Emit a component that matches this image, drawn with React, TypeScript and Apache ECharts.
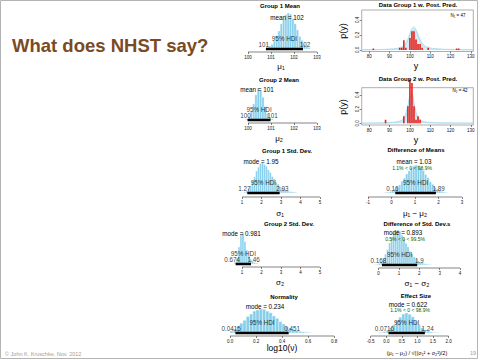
import React, { useEffect, useRef } from "react";
import * as echarts from "echarts";

const FONT = '"Liberation Sans", Arial, Helvetica, sans-serif';

// ---------- posterior histograms: bin centres and relative heights ----------
const mu1Bins = [100.85, 100.95, 101.05, 101.15, 101.25, 101.35, 101.45, 101.55, 101.65, 101.75, 101.85, 101.95, 102.05, 102.15, 102.25, 102.35, 102.45, 102.55, 102.65];
const mu1Heights = [0.04, 0.08, 0.13, 0.22, 0.37, 0.5, 0.7, 0.83, 0.95, 1.0, 0.97, 0.84, 0.7, 0.53, 0.35, 0.24, 0.12, 0.07, 0.04];
const mu2Bins = [99.95, 100.05, 100.15, 100.25, 100.35, 100.45, 100.55, 100.65, 100.75, 100.85, 100.95, 101.05];
const mu2Heights = [0.03, 0.1, 0.26, 0.5, 0.79, 1.0, 0.92, 0.71, 0.42, 0.2, 0.08, 0.03];
const sigma1Bins = [1.15, 1.25, 1.35, 1.45, 1.55, 1.65, 1.75, 1.85, 1.95, 2.05, 2.15, 2.25, 2.35, 2.45, 2.55, 2.65, 2.75, 2.85, 2.95, 3.05, 3.15, 3.25, 3.35, 3.45, 3.55, 3.65, 3.75];
const sigma1Heights = [0.03, 0.07, 0.15, 0.24, 0.4, 0.54, 0.73, 0.86, 0.98, 1.0, 0.95, 0.89, 0.77, 0.68, 0.55, 0.47, 0.36, 0.3, 0.22, 0.17, 0.13, 0.1, 0.07, 0.05, 0.04, 0.03, 0.02];
const sigma2Bins = [0.65, 0.75, 0.85, 0.95, 1.05, 1.15, 1.25, 1.35, 1.45, 1.55, 1.65, 1.75];
const sigma2Heights = [0.05, 0.2, 0.55, 0.95, 1.0, 0.72, 0.45, 0.26, 0.15, 0.08, 0.045, 0.025];
const nuBins = [0.0125, 0.0375, 0.0625, 0.0875, 0.1125, 0.1375, 0.1625, 0.1875, 0.2125, 0.2375, 0.2625, 0.2875, 0.3125, 0.3375, 0.3625, 0.3875, 0.4125, 0.4375, 0.4625, 0.4875, 0.5125, 0.5375, 0.5625, 0.5875, 0.6125];
const nuHeights = [0.08, 0.17, 0.26, 0.41, 0.53, 0.69, 0.79, 0.91, 0.96, 1.0, 0.99, 0.91, 0.84, 0.71, 0.61, 0.47, 0.38, 0.27, 0.21, 0.14, 0.1, 0.07, 0.05, 0.03, 0.02];
const diffMuBins = [-0.25, -0.15, -0.05, 0.05, 0.15, 0.25, 0.35, 0.45, 0.55, 0.65, 0.75, 0.85, 0.95, 1.05, 1.15, 1.25, 1.35, 1.45, 1.55, 1.65, 1.75, 1.85, 1.95, 2.05, 2.15, 2.25, 2.35];
const diffMuHeights = [0.015, 0.03, 0.05, 0.09, 0.13, 0.22, 0.29, 0.42, 0.53, 0.68, 0.79, 0.91, 0.97, 1.0, 0.98, 0.89, 0.81, 0.66, 0.55, 0.4, 0.31, 0.2, 0.14, 0.08, 0.05, 0.03, 0.015];
const diffSigmaBins = [-0.15, -0.05, 0.05, 0.15, 0.25, 0.35, 0.45, 0.55, 0.65, 0.75, 0.85, 0.95, 1.05, 1.15, 1.25, 1.35, 1.45, 1.55, 1.65, 1.75, 1.85, 1.95, 2.05, 2.15, 2.25, 2.35, 2.45, 2.55];
const diffSigmaHeights = [0.01, 0.02, 0.05, 0.1, 0.18, 0.31, 0.44, 0.63, 0.77, 0.92, 0.98, 1.0, 0.96, 0.85, 0.76, 0.62, 0.52, 0.39, 0.32, 0.23, 0.17, 0.12, 0.085, 0.06, 0.04, 0.028, 0.018, 0.012];
const effBins = [-0.25, -0.15, -0.05, 0.05, 0.15, 0.25, 0.35, 0.45, 0.55, 0.65, 0.75, 0.85, 0.95, 1.05, 1.15, 1.25, 1.35, 1.45, 1.55, 1.65, 1.75];
const effHeights = [0.012, 0.03, 0.065, 0.14, 0.25, 0.4, 0.62, 0.79, 0.95, 1.0, 0.94, 0.81, 0.6, 0.42, 0.25, 0.16, 0.09, 0.05, 0.028, 0.016, 0.01];

// ---------- summary values ----------
const mu1Hdi = [100.78, 102.39];
const mu2Hdi = [99.98, 100.98];
const sigma1Hdi = [1.27, 2.93];
const sigma2Hdi = [0.674, 1.46];
const nuHdi = [0.0415, 0.451];
const diffMuHdi = [0.16, 1.89];
const diffSigmaHdi = [0.168, 1.9];
const effHdi = [0.0716, 1.24];
const mu1Mean = 101.7;
const mu2Mean = 100.52;
const sigma1Mode = 1.95;
const sigma2Mode = 0.981;
const nuMode = 0.234;
const diffMuMean = 1.03;
const diffSigmaMode = 0.893;
const effMode = 0.622;
const diffMuPct = [1.1, 98.9];
const diffSigmaPct = [0.5, 99.5];
const effPct = [1.1, 98.9];

// ---------- tick labels ----------
const muTicks = [100, 101, 102, 103];
const sigmaTicks = [1, 2, 3, 4, 5];
const nuTicks = [0, 0.2, 0.4, 0.6, 0.8];
const diffMuTicks = [-1, 0, 1, 2, 3];
const diffSigmaTicks = [0, 1, 2, 3, 4];
const effTicks = [-0.5, 0, 0.5, 1, 1.5, 2];
const yTicks = [80, 90, 100, 110, 120, 130];
const pTicks = [0, 0.2, 0.4];

// ---------- data with posterior predictive ----------
const n1 = 47;
const n2 = 42;
const data1X = [82, 95, 96, 97, 98, 100, 101, 102, 103, 104, 105, 106, 109, 123, 124];
const data1Y = [0.02, 0.03, 0.03, 0.13, 0.03, 0.16, 0.25, 0.25, 0.14, 0.08, 0.08, 0.03, 0.03, 0.02, 0.02];
const data2X = [88, 97, 99, 100, 101, 102, 103, 104, 105];
const data2Y = [0.05, 0.1, 0.24, 0.62, 0.57, 0.24, 0.05, 0.1, 0.05];
const ppc1X = [76, 80, 84, 88, 92, 94, 96, 97, 98, 99, 100, 101, 102, 103, 104, 105, 106, 107, 108, 110, 112, 116, 120, 126, 131];
const ppc1Y = [0.003, 0.004, 0.006, 0.009, 0.016, 0.024, 0.04, 0.058, 0.09, 0.14, 0.2, 0.255, 0.28, 0.255, 0.2, 0.14, 0.095, 0.063, 0.045, 0.028, 0.019, 0.011, 0.008, 0.005, 0.004];
const ppc1bY = [0.002, 0.003, 0.004, 0.006, 0.01, 0.015, 0.028, 0.045, 0.08, 0.14, 0.22, 0.29, 0.31, 0.27, 0.19, 0.12, 0.07, 0.042, 0.028, 0.016, 0.011, 0.007, 0.005, 0.003, 0.002];
const ppc2X = [76, 80, 84, 88, 92, 94, 96, 97, 98, 99, 100, 101, 102, 103, 104, 105, 106, 108, 110, 114, 120, 126, 131];
const ppc2Y = [0.002, 0.003, 0.005, 0.008, 0.015, 0.024, 0.045, 0.075, 0.14, 0.26, 0.37, 0.39, 0.29, 0.16, 0.085, 0.05, 0.033, 0.018, 0.012, 0.007, 0.004, 0.003, 0.002];
const ppc2bY = [0.001, 0.002, 0.003, 0.005, 0.01, 0.016, 0.03, 0.05, 0.1, 0.22, 0.4, 0.43, 0.26, 0.12, 0.055, 0.03, 0.02, 0.011, 0.007, 0.004, 0.003, 0.002, 0.001];

const sig3 = (v: number) => String(Number(v.toPrecision(3)));

type Hist = {
  title: string; tx: number; ty: number;
  bins: number[]; heights: number[]; bw: number; hdi: number[];
  ticks: number[]; dec: number; tickPx: [number, number]; xmin: number; xmax: number;
  peakY: number; baseY: number; axisY: number;
  center: string; cx: number; cy: number;
  comp?: string; gx?: number; gy?: number;
  xlabel: string; lx: number; ly: number; lsize: number;
};

const hists: Hist[] = [
  { title: "Group 1 Mean", tx: 280, ty: 6, bins: mu1Bins, heights: mu1Heights, bw: 0.1, hdi: mu1Hdi,
    ticks: muTicks, dec: 0, tickPx: [248, 317], xmin: 99.8, xmax: 103.2, peakY: 13, baseY: 49, axisY: 52,
    center: "mean = " + sig3(mu1Mean), cx: 287, cy: 17, xlabel: "μ₁", lx: 281, ly: 66, lsize: 8 },
  { title: "Group 2 Mean", tx: 279, ty: 80, bins: mu2Bins, heights: mu2Heights, bw: 0.1, hdi: mu2Hdi,
    ticks: muTicks, dec: 0, tickPx: [248, 317], xmin: 99.8, xmax: 103.2, peakY: 88, baseY: 120, axisY: 123,
    center: "mean = " + sig3(mu2Mean), cx: 257, cy: 89, xlabel: "μ₂", lx: 279, ly: 138, lsize: 8 },
  { title: "Group 1 Std. Dev.", tx: 287, ty: 151, bins: sigma1Bins, heights: sigma1Heights, bw: 0.1, hdi: sigma1Hdi,
    ticks: sigmaTicks, dec: 0, tickPx: [242, 320], xmin: 0.9, xmax: 5.2, peakY: 163, baseY: 193, axisY: 197,
    center: "mode = " + sig3(sigma1Mode), cx: 261, cy: 161, xlabel: "σ₁", lx: 280, ly: 213, lsize: 8 },
  { title: "Group 2 Std. Dev.", tx: 289, ty: 224, bins: sigma2Bins, heights: sigma2Heights, bw: 0.1, hdi: sigma2Hdi,
    ticks: sigmaTicks, dec: 0, tickPx: [242, 320], xmin: 0.5, xmax: 5.2, peakY: 233, baseY: 264, axisY: 267,
    center: "mode = " + sig3(sigma2Mode), cx: 241.5, cy: 233, xlabel: "σ₂", lx: 280, ly: 282, lsize: 8 },
  { title: "Normality", tx: 284, ty: 297, bins: nuBins, heights: nuHeights, bw: 0.025, hdi: nuHdi,
    ticks: nuTicks, dec: 1, tickPx: [230, 334], xmin: -0.05, xmax: 0.85, peakY: 309, baseY: 333, axisY: 336,
    center: "mode = " + sig3(nuMode), cx: 265, cy: 306, xlabel: "log10(ν)", lx: 282, ly: 348, lsize: 8.5 },
  { title: "Difference of Means", tx: 416, ty: 150, bins: diffMuBins, heights: diffMuHeights, bw: 0.1, hdi: diffMuHdi,
    ticks: diffMuTicks, dec: 0, tickPx: [368, 462], xmin: -1.2, xmax: 3.2, peakY: 165, baseY: 193, axisY: 197,
    center: "mean = " + sig3(diffMuMean), cx: 414, cy: 161,
    comp: `${diffMuPct[0]}% < 0 < ${diffMuPct[1]}%`, gx: 412, gy: 168, xlabel: "μ₁ − μ₂", lx: 415, ly: 213, lsize: 8 },
  { title: "Difference of Std. Dev.s", tx: 417, ty: 224, bins: diffSigmaBins, heights: diffSigmaHeights, bw: 0.1, hdi: diffSigmaHdi,
    ticks: diffSigmaTicks, dec: 0, tickPx: [378.5, 460], xmin: -0.3, xmax: 4.2, peakY: 230, baseY: 265, axisY: 268,
    center: "mode = " + sig3(diffSigmaMode), cx: 403, cy: 232,
    comp: `${diffSigmaPct[0]}% < 0 < ${diffSigmaPct[1]}%`, gx: 405, gy: 239, xlabel: "σ₁ − σ₂", lx: 417, ly: 283, lsize: 8 },
  { title: "Effect Size", tx: 416, ty: 296, bins: effBins, heights: effHeights, bw: 0.1, hdi: effHdi,
    ticks: effTicks, dec: 1, tickPx: [370.7, 448.5], xmin: -0.6, xmax: 2.1, peakY: 313, baseY: 333, axisY: 336,
    center: "mode = " + sig3(effMode), cx: 408, cy: 304,
    comp: `${effPct[0]}% < 0 < ${effPct[1]}%`, gx: 410, gy: 310,
    xlabel: "(μ₁ − μ₂) / √((σ₁² + σ₂²)/2)", lx: 417, ly: 353, lsize: 5.5 },
];

type Pred = {
  title: string; ty: number; top: number; bottom: number; ymin: number; ymax: number;
  dx: number[]; dy: number[]; px: number[]; py: number[]; pyb: number[];
  n: string; nx: number; ny: number; ylab: number; plab: number;
};
const preds: Pred[] = [
  { title: "Data Group 1 w. Post. Pred.", ty: 5, top: 10, bottom: 51.5, ymin: -0.02, ymax: 0.533,
    dx: data1X, dy: data1Y, px: ppc1X, py: ppc1Y, pyb: ppc1bY, n: "N₁ = " + n1, nx: 458, ny: 15, ylab: 66, plab: 31 },
  { title: "Data Group 2 w. Post. Pred.", ty: 79, top: 87.7, bottom: 125, ymin: -0.024, ymax: 0.503,
    dx: data2X, dy: data2Y, px: ppc2X, py: ppc2Y, pyb: ppc2bY, n: "N₂ = " + n2, nx: 460, ny: 90, ylab: 140, plab: 107 },
];
const predLeft = 361.7;
const predWidth = 111.6;
const predXmin = 76.26;
const predXmax = 131.2;

function txt(x: number, y: number, text: string, size: number, opts: any = {}) {
  return {
    type: "text", x, y, rotation: opts.rotation || 0, silent: true, z: 10,
    style: {
      text, fill: opts.fill || "#000", fontSize: size, fontFamily: opts.family || FONT,
      fontWeight: opts.bold ? "bold" : "normal", align: opts.align || "center", verticalAlign: "middle",
    },
  };
}

function buildOption() {
  const grid: any[] = [];
  const xAxis: any[] = [];
  const yAxis: any[] = [];
  const series: any[] = [];
  const graphic: any[] = [];

  graphic.push({ type: "rect", shape: { x: 0.5, y: 0.5, width: 477, height: 358 }, style: { fill: "none", stroke: "#b4b4b4", lineWidth: 1 }, silent: true });
  graphic.push(txt(12, 45, "What does NHST say?", 18.5, { bold: true, fill: "#7b4a1f", align: "left" }));
  graphic.push(txt(5, 354, "© John K. Kruschke, Nov. 2012", 5.5, { fill: "#a0a0a0", align: "left" }));
  graphic.push(txt(473, 353, "19", 5.5, { fill: "#a0a0a0" }));

  hists.forEach((h, i) => {
    const t0 = h.ticks[0];
    const tN = h.ticks[h.ticks.length - 1];
    const ppu = (h.tickPx[1] - h.tickPx[0]) / (tN - t0);
    const left = h.tickPx[0] + (h.xmin - t0) * ppu;
    const width = (h.xmax - h.xmin) * ppu;
    const ymin = -(h.axisY - h.baseY) / (h.baseY - h.peakY);
    grid.push({ left, top: h.peakY, width, height: h.axisY - h.peakY, show: false });
    xAxis.push({
      gridIndex: i, type: "value", min: h.xmin, max: h.xmax,
      axisLine: { show: false, onZero: false }, splitLine: { show: false },
      axisTick: { show: true, customValues: h.ticks, length: 2, lineStyle: { color: "#333", width: 0.6 } },
      axisLabel: { customValues: h.ticks, formatter: (v: number) => v.toFixed(h.dec), fontSize: 4.5, margin: 2.5, color: "#111", fontFamily: FONT },
    });
    yAxis.push({ gridIndex: i, type: "value", min: ymin, max: 1, show: false });
    const bw = h.bw;
    series.push({
      type: "custom", xAxisIndex: i, yAxisIndex: i, silent: true, z: 2,
      data: h.bins.map((b, j) => [b, h.heights[j]]),
      renderItem: (_p: any, api: any) => {
        const c = api.value(0);
        const v = api.value(1);
        const p0 = api.coord([c - bw / 2, v]);
        const p1 = api.coord([c + bw / 2, 0]);
        return { type: "rect", shape: { x: p0[0], y: p0[1], width: p1[0] - p0[0], height: p1[1] - p0[1] }, style: { fill: "#87CEEB", stroke: "#ffffff", lineWidth: 0.35 } };
      },
    });
    series.push({
      type: "line", xAxisIndex: i, yAxisIndex: i, data: [[t0, ymin], [tN, ymin]], symbol: "none", silent: true, clip: false, z: 1,
      lineStyle: { color: "#333", width: 0.6 },
    });
    series.push({
      type: "line", xAxisIndex: i, yAxisIndex: i, data: [[h.hdi[0], 0], [h.hdi[1], 0]], symbol: "none", silent: true, clip: false, z: 4,
      lineStyle: { color: "#000", width: 2.5, cap: "butt" },
    });
    const lo = sig3(h.hdi[0]);
    const hi = sig3(h.hdi[1]);
    const fs = 6.3;
    series.push({
      type: "scatter", xAxisIndex: i, yAxisIndex: i, symbolSize: 1, itemStyle: { color: "rgba(0,0,0,0)" }, silent: true, clip: false, z: 6,
      label: { show: true, position: "top", distance: 1.5, fontSize: fs, color: "#000", fontFamily: FONT },
      data: [
        { value: [h.hdi[0], 0], label: { formatter: lo, offset: [-0.2 * lo.length * fs * 0.55, 0] } },
        { value: [(h.hdi[0] + h.hdi[1]) / 2, 0], label: { formatter: "95% HDI", distance: 7 } },
        { value: [h.hdi[1], 0], label: { formatter: hi, offset: [0.2 * hi.length * fs * 0.55, 0] } },
      ],
    });
    graphic.push(txt(h.tx, h.ty, h.title, 6, { bold: true }));
    graphic.push(txt(h.cx, h.cy, h.center, 6.3));
    if (h.comp) graphic.push(txt(h.gx!, h.gy!, h.comp, 5, { fill: "#006400" }));
    graphic.push(txt(h.lx, h.ly, h.xlabel, h.lsize));
  });

  preds.forEach((p, k) => {
    const i = hists.length + k;
    grid.push({ left: predLeft, top: p.top, width: predWidth, height: p.bottom - p.top, show: true, borderColor: "#8a8a8a", borderWidth: 0.7, backgroundColor: "transparent" });
    xAxis.push({
      gridIndex: i, type: "value", min: predXmin, max: predXmax,
      axisLine: { show: false, onZero: false }, splitLine: { show: false },
      axisTick: { show: true, customValues: yTicks, length: 2, lineStyle: { color: "#333", width: 0.6 } },
      axisLabel: { customValues: yTicks, fontSize: 4.5, margin: 2.5, color: "#111", fontFamily: FONT },
    });
    yAxis.push({
      gridIndex: i, type: "value", min: p.ymin, max: p.ymax,
      axisLine: { show: false, onZero: false }, splitLine: { show: false },
      axisTick: { show: true, customValues: pTicks, length: 2, lineStyle: { color: "#333", width: 0.6 } },
      axisLabel: { customValues: pTicks, rotate: 90, formatter: (v: number) => v.toFixed(1), fontSize: 4.5, margin: 2, color: "#111", fontFamily: FONT },
    });
    [p.py, p.pyb].forEach((ys) => {
      series.push({
        type: "line", xAxisIndex: i, yAxisIndex: i, symbol: "none", silent: true, z: 2, smooth: 0.3,
        data: p.px.map((x, j) => [x, ys[j]]),
        lineStyle: { color: "#a8dcf0", width: 0.8 },
        areaStyle: { color: "rgba(135,206,235,0.3)" },
      });
    });
    series.push({
      type: "custom", xAxisIndex: i, yAxisIndex: i, silent: true, z: 3,
      data: p.dx.map((x, j) => [x, p.dy[j]]),
      renderItem: (_q: any, api: any) => {
        const a = api.coord([api.value(0), 0]);
        const b = api.coord([api.value(0), api.value(1)]);
        return { type: "line", shape: { x1: a[0], y1: a[1], x2: b[0], y2: b[1] }, style: { stroke: "#e8201a", lineWidth: 1.6 } };
      },
    });
    graphic.push(txt(418, p.ty, p.title, 6, { bold: true }));
    graphic.push(txt(p.nx, p.ny, p.n, 4.5));
    graphic.push(txt(416, p.ylab, "y", 9));
    graphic.push(txt(343, p.plab, "p(y)", 9, { rotation: Math.PI / 2 }));
  });

  return { animation: false, backgroundColor: "#ffffff", grid, xAxis, yAxis, series, graphic };
}

export default function App() {
  const ref = useRef<HTMLDivElement>(null);
  useEffect(() => {
    document.body.style.margin = "0";
    if (!ref.current) return;
    const chart = echarts.init(ref.current, undefined, { renderer: "svg" });
    chart.setOption(buildOption() as any);
    return () => chart.dispose();
  }, []);
  return <div ref={ref} style={{ width: 480, height: 360 }} />;
}
